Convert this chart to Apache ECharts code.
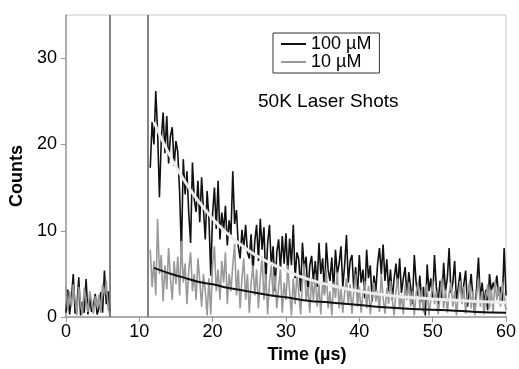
<!DOCTYPE html>
<html>
<head>
<meta charset="utf-8">
<script src="https://cdn.jsdelivr.net/npm/echarts@6/dist/echarts.min.js"></script>
<style>
  html, body { margin: 0; padding: 0; background: #fff; }
  #main { width: 519px; height: 369px; }
</style>
</head>
<body>
<div id="main"></div>
<script>
// sampling step of the traces (µs)
const dt = 0.25;

// pre-trigger part, t = 0 .. 6
const earlyStart = 0;
const early100 = [0.5, 3.2, 0.3, 2.1, 5.0, 0.4, 1.2, 4.6, 0.2, 1.8, 0.5, 4.4, 0.3, 2.2, 0.6, 1.4,
  2.7, 0.3, 1.0, 2.9, 0.5, 5.4, 1.5, 3.0, 0.7];
const early10 = [3.6, 0.8, 3.0, 1.2, 3.8, 2.0, 0.2, 3.5, 1.5, 0.3, 3.4, 2.0, 0.6, 3.0, 1.8, 0.4,
  2.4, 1.2, 2.6, 0.5, 3.8, 2.5, 4.2, 1.0, 0.3];

// decay part, t = 11.5 .. 60
const lateStart = 11.5;
const late100 = [
  17.3, 22.6,
  20.0, 26.2, 21.5, 13.9,
  20.5, 23.7, 19.0, 23.3,
  17.8, 21.0, 22.0, 17.5,
  20.4, 19.1, 14.5, 7.4,
  18.3, 14.2, 16.9, 12.0,
  8.6, 17.9, 13.6, 12.2,
  15.8, 11.0, 16.2, 12.5,
  9.0, 14.6, 11.4, 4.8,
  12.0, 15.0, 10.2, 15.8,
  9.0, 12.1, 10.0, 12.9,
  8.3, 11.2, 9.5, 16.9,
  10.8, 12.4, 8.2, 6.8,
  10.1, 8.0, 10.7, 7.5,
  6.8, 9.6, 5.2, 8.8,
  10.7, 6.5, 11.4, 7.8,
  10.4, 4.0, 8.5, 10.7,
  6.0, 8.2, 3.0, 7.5,
  9.0, 5.5, 9.4, 6.2,
  9.7, 5.0, 9.1, 6.0,
  10.7, 4.5, 7.5, 6.7,
  3.0, 8.6, 5.5, 7.0,
  2.5, 6.0, 7.1, 4.0,
  6.5, 3.5, 8.6, 5.0,
  6.8, 2.8, 8.6, 5.5,
  4.2, 6.9, 3.0, 7.8,
  5.0, 6.2, 8.2, 3.5,
  6.0, 9.5, 4.0, 6.5,
  7.2, 3.2, 5.8, 2.5,
  7.2, 4.0, 5.5, 2.2,
  7.8, 4.5, 6.0, 1.8,
  4.8, 3.0, 6.2, 8.0,
  5.0, 8.4, 4.2, 6.7,
  3.0, 5.5, 2.0, 4.5,
  6.2, 3.5, 6.8, 2.8,
  4.5, 5.8, 2.2, 5.2,
  3.5, 1.5, 7.2, 4.0,
  2.5, 4.8, 1.8, 3.5,
  0.2, 6.1, 3.0, 4.5,
  2.0, 7.2, 3.5, 1.5,
  4.2, 2.0, 6.3, 3.0,
  4.5, 8.0, 2.8, 4.0,
  6.5, 1.8, 3.5, 5.2,
  2.0, 3.8, 5.4, 1.2,
  3.0, 5.0, 2.2, 0.5,
  3.5, 6.9, 2.0, 4.0,
  1.5, 3.2, 0.8, 5.0,
  3.0, 4.0, 3.2, 4.8,
  2.5, 3.5, 1.8, 8.0,
  2.5
];
const late10 = [
  7.8, 3.5,
  6.5, 2.5, 11.4, 5.0,
  7.2, 1.8, 6.0, 3.2,
  8.0, 4.5, 2.0, 6.5,
  3.8, 7.0, 2.5, 8.8,
  4.0, 6.2, 1.5, 5.5,
  7.5, 3.0, 5.0, 2.0,
  6.8, 4.2, 1.2, 5.0,
  3.0, 0.2, 4.5, 0.3,
  6.0, 8.2, 3.0, 5.5,
  2.0, 6.5, 4.0, 7.5,
  1.5, 5.0, 3.0, 6.0,
  8.5, 2.5, 5.5, 1.0,
  4.5, 6.8, 2.0, 5.0,
  0.5, 4.0, 6.0, 2.5,
  5.5, 1.0, 4.5, 7.0,
  2.0, 5.0, 0.3, 4.0,
  6.0, 2.5, 4.8, 1.0,
  3.5, 5.5, 0.5, 4.0,
  2.0, 6.0, 3.0, 0.2,
  4.5, 1.5, 5.0, 2.8,
  0.3, 4.0, 6.2, 2.0,
  3.5, 0.5, 4.5, 2.0,
  5.0, 1.2, 3.8, 0.3,
  4.2, 2.5, 5.5, 1.0,
  3.0, 0.2, 4.0, 2.2,
  5.2, 1.0, 3.5, 0.5,
  2.8, 4.5, 1.5, 3.8,
  0.4, 3.0, 5.0, 1.2,
  3.5, 0.5, 2.8, 4.2,
  1.0, 3.6, 0.3, 2.5,
  4.0, 1.8, 3.0, 0.6,
  5.0, 2.2, 0.4, 3.4,
  1.5, 4.2, 2.0, 0.2,
  3.0, 4.5, 1.0, 2.6,
  0.3, 3.8, 2.0, 4.0,
  1.2, 3.0, 0.2, 2.8,
  4.0, 1.0, 3.2, 0.5,
  2.5, 3.8, 0.2, 2.0,
  4.2, 1.5, 3.0, 0.3,
  2.2, 4.5, 1.0, 3.2,
  0.5, 2.8, 4.0, 1.2,
  3.0, 0.2, 2.5, 4.2,
  1.5, 3.5, 0.4, 2.8,
  4.0, 1.0, 3.0, 0.2,
  2.6, 4.5, 1.2, 3.0,
  0.3, 2.4, 3.8, 1.0,
  3.2, 0.6, 4.2, 2.0,
  3.5, 1.2, 4.0, 2.2,
  0.8
];

// exponential fits
const fitTimes = [12, 14, 16, 18, 20, 22, 24, 26, 28, 30, 33, 36, 40, 44, 48, 52, 56, 60];
const fit100 = [22.6, 19.0, 16.0, 13.5, 11.4, 9.7, 8.3, 7.1, 6.2, 5.4, 4.4, 3.7, 3.0, 2.5, 2.2, 2.0, 1.8, 1.7];
const fit10 = [5.7, 5.1, 4.6, 4.1, 3.8, 3.4, 3.1, 2.8, 2.5, 2.3, 1.9, 1.7, 1.4, 1.1, 0.9, 0.8, 0.6, 0.5];

// vertical marker lines (µs)
const markers = [6, 11.2];

const xTicks = [0, 10, 20, 30, 40, 50, 60];
const yTicks = [0, 10, 20, 30];

function trace(early, late) {
  const out = early.map((v, i) => [earlyStart + i * dt, v]);
  out.push([(earlyStart + early.length * dt + lateStart) / 2, null]);
  late.forEach((v, i) => out.push([lateStart + i * dt, v]));
  return out;
}
function fit(vals) {
  return fitTimes.map((t, i) => [t, vals[i]]);
}

const font = '"Liberation Sans", Arial, sans-serif';
const chart = echarts.init(document.getElementById('main'));
chart.setOption({
  animation: false,
  backgroundColor: '#fff',
  title: {
    text: '50K Laser Shots',
    left: 253,
    top: 87,
    textStyle: { fontFamily: font, fontSize: 19, fontWeight: 'normal', color: '#000' }
  },
  legend: {
    data: ['100 µM', '10 µM'],
    orient: 'vertical',
    left: 273,
    top: 33,
    icon: 'rect',
    itemWidth: 25,
    itemHeight: 2,
    itemGap: 0,
    backgroundColor: '#fff',
    borderColor: '#333',
    borderWidth: 1,
    padding: [2, 8, 2, 8],
    textStyle: { fontFamily: font, fontSize: 18, color: '#000', lineHeight: 18 }
  },
  grid: {
    left: 61, right: 10, top: 15, bottom: 47,
    show: true,
    borderColor: '#c8c8c8',
    borderWidth: 1
  },
  xAxis: {
    type: 'value',
    min: 0, max: 60, interval: 10,
    name: 'Time (µs)',
    nameLocation: 'middle',
    nameGap: 24,
    nameTextStyle: { fontFamily: font, fontSize: 18, fontWeight: 'bold', color: '#000', padding: [0, 0, 0, 42] },
    axisLine: { lineStyle: { color: '#999', width: 1.5 } },
    axisTick: { show: true, length: 5, lineStyle: { color: '#999' } },
    axisLabel: { fontFamily: font, fontSize: 18, color: '#000', margin: 6,
      formatter: v => xTicks.includes(v) ? String(v) : '' },
    splitLine: { show: false }
  },
  yAxis: {
    type: 'value',
    min: 0, max: 35, interval: 10,
    name: 'Counts',
    nameLocation: 'middle',
    nameGap: 36,
    nameTextStyle: { fontFamily: font, fontSize: 18, fontWeight: 'bold', color: '#000', padding: [0, 20, 0, 0] },
    axisLine: { show: true, lineStyle: { color: '#999', width: 1.5 } },
    axisTick: { show: true, length: 5, lineStyle: { color: '#999' } },
    axisLabel: { fontFamily: font, fontSize: 18, color: '#000', margin: 9, showMaxLabel: false,
      formatter: v => yTicks.includes(v) ? String(v) : '' },
    splitLine: { show: false }
  },
  series: [
    {
      name: '100 µM',
      type: 'line',
      data: trace(early100, late100),
      symbol: 'none',
      connectNulls: false,
      color: '#111',
      lineStyle: { color: '#111', width: 1.6 },
      z: 2,
      markLine: {
        silent: true,
        symbol: 'none',
        label: { show: false },
        lineStyle: { color: '#666', width: 1.6, type: 'solid' },
        data: markers.map(m => ({ xAxis: m }))
      }
    },
    {
      name: '10 µM',
      type: 'line',
      data: trace(early10, late10),
      symbol: 'none',
      connectNulls: false,
      color: '#999',
      lineStyle: { color: '#999', width: 1.6 },
      z: 3
    },
    {
      name: 'fit 100',
      type: 'line',
      data: fit(fit100),
      symbol: 'none',
      smooth: true,
      lineStyle: { color: '#ececec', width: 3 },
      z: 4
    },
    {
      name: 'fit 10',
      type: 'line',
      data: fit(fit10),
      symbol: 'none',
      smooth: true,
      lineStyle: { color: '#111', width: 2 },
      z: 4
    }
  ]
});
</script>
</body>
</html>
